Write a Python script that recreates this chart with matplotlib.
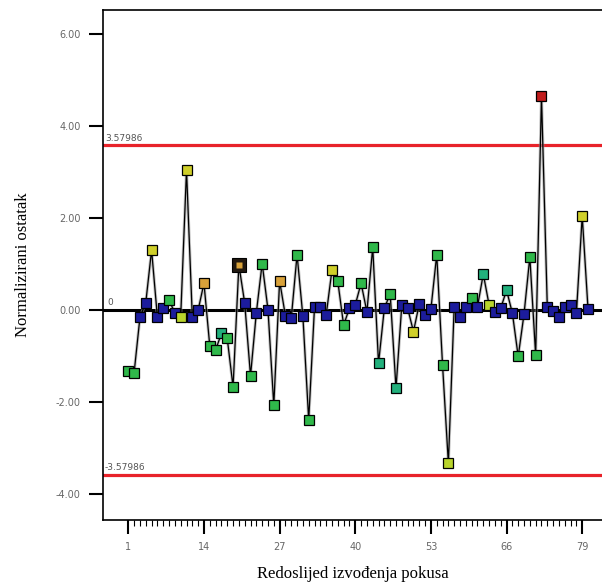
import matplotlib
matplotlib.use("Agg")
import matplotlib.pyplot as plt
from matplotlib.ticker import FixedLocator

# ---- data ----
run_order = list(range(1, 81))
residuals = [
    -1.33, -1.36, -0.16, 0.16, 1.30, -0.16, 0.04, 0.22, -0.07, -0.15,
    3.04, -0.16, 0.00, 0.58, -0.78, -0.87, -0.51, -0.62, -1.67, 0.98,
    0.15, -1.43, -0.06, 1.01, 0.01, -2.07, 0.63, -0.13, -0.18, 1.20,
    -0.14, -2.39, 0.07, 0.07, -0.11, 0.87, 0.62, -0.33, 0.04, 0.11,
    0.58, -0.04, 1.36, -1.16, 0.04, 0.35, -1.70, 0.11, 0.04, -0.47,
    0.13, -0.11, 0.02, 1.20, -1.20, -3.33, 0.07, -0.15, 0.07, 0.25,
    0.07, 0.78, 0.11, -0.04, 0.04, 0.43, -0.07, -1.01, -0.09, 1.15,
    -0.98, 4.65, 0.07, -0.02, -0.16, 0.07, 0.11, -0.07, 2.04, 0.02,
]
# colour class of each point as seen in the picture
point_class = [
    "g", "g", "b", "b", "y", "b", "b", "g", "b", "yg",
    "y", "b", "b", "o", "g", "g", "t", "g", "g", "sel",
    "b", "g", "b", "g", "b", "g", "o", "b", "b", "g",
    "b", "g", "b", "b", "b", "y", "g", "g", "b", "b",
    "g", "b", "g", "t", "b", "g", "t", "b", "b", "y",
    "b", "b", "b", "g", "g", "yg", "b", "b", "b", "g",
    "b", "t", "yg", "b", "b", "t", "b", "g", "b", "g",
    "g", "r", "b", "b", "b", "b", "b", "b", "y", "b",
]
limit = 3.57986
x_ticks = [1, 14, 27, 40, 53, 66, 79]
y_ticks = [-4, -2, 0, 2, 4, 6]

# ---- style ----
class_colors = {
    "b": "#1c1c9c",
    "g": "#2fb84a",
    "t": "#22b07c",
    "yg": "#b9d42c",
    "y": "#cfcf2a",
    "o": "#d9a23a",
    "r": "#c01c1c",
    "sel": "#d9a23a",
}
label_color = "#666666"

fig = plt.figure(figsize=(6.02, 5.88), dpi=100)
ax = fig.add_axes([103 / 602, 68 / 588, 1 - 103 / 602, 510 / 588])

ax.set_xlim(-3.35, 82.4)
ax.set_ylim(-4.565, 6.52)

# reference lines
ax.axhline(limit, color="#e8232a", lw=2.3, zorder=1)
ax.axhline(-limit, color="#e8232a", lw=2.3, zorder=1)
ax.axhline(0, color="black", lw=2.2, zorder=1)

ax.text(-3.0, limit + 0.06, f"{limit:.5f}", fontsize=6.5, color="#555555",
        ha="left", va="bottom")
ax.text(-2.6, 0.06, "0", fontsize=6.5, color="#555555", ha="left", va="bottom")
ax.text(-3.0, -limit + 0.06, f"{-limit:.5f}", fontsize=6.5, color="#555555",
        ha="left", va="bottom")

# connecting line
ax.plot(run_order, residuals, color="#9a9a9a", lw=2.2, alpha=0.6, zorder=2)
ax.plot(run_order, residuals, color="black", lw=0.9, zorder=2.1)

# markers
for xv, yv, c in zip(run_order, residuals, point_class):
    if c == "sel":
        ax.plot(xv, yv, marker="s", ms=10, mfc="#201810", mec="black",
                mew=0.8, zorder=3)
        ax.plot(xv, yv, marker="s", ms=4.3, mfc="#d9a23a", mec="none",
                zorder=3.1)
    else:
        ax.plot(xv, yv, marker="s", ms=6.6, mfc=class_colors[c], mec="black",
                mew=0.9, zorder=3)

# axes styling
ax.spines["right"].set_visible(False)
for s in ["left", "top", "bottom"]:
    ax.spines[s].set_linewidth(1.2)

ax.set_yticks(y_ticks)
ax.set_yticklabels([f"{v:.2f}" for v in y_ticks])
ax.set_xticks(x_ticks)
ax.set_xticklabels([str(v) for v in x_ticks])
ax.xaxis.set_minor_locator(FixedLocator([v for v in run_order if v <= 79]))
ax.tick_params(axis="both", which="major", length=10, width=1.5,
               labelsize=7, labelcolor=label_color, pad=6)
ax.tick_params(axis="x", which="minor", length=4.5, width=0.8)
ax.tick_params(axis="y", which="minor", left=False)

ax.set_ylabel("Normalizirani ostatak", family="Liberation Serif", fontsize=12,
              labelpad=18)
ax.set_xlabel("Redoslijed izvođenja pokusa", family="Liberation Serif",
              fontsize=12, labelpad=10)

fig.savefig("out.png", dpi=100)
